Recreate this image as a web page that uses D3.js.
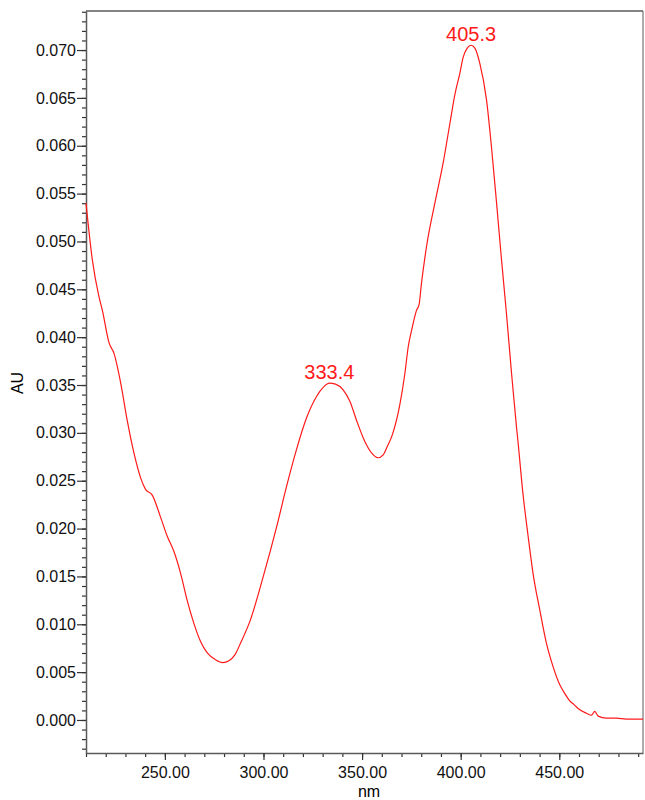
<!DOCTYPE html>
<html>
<head>
<meta charset="utf-8">
<script src="https://cdn.jsdelivr.net/npm/d3@7"></script>
<style>
  body { margin: 0; background: #fff; }
  text { font-family: "Liberation Sans", Arial, sans-serif; }
</style>
</head>
<body>
<div id="chart"></div>
<script>
// spectrum: wavelength (nm) and absorbance (AU)
var wavelength = [210, 213.2, 216.6, 218.3, 221.7, 224.2, 227.6, 230.9, 234.3, 237.7,
  240.2, 243.6, 247.8, 251.2, 254.6, 258.0, 261.3, 264.7, 268.1, 271.5,
  275.7, 279.3, 282.5, 285.5, 288.5, 293.1, 299.9, 306.7, 311.7, 316.8,
  321.9, 326.9, 330.5, 333.4, 336.5, 340.4, 343.8, 347.2, 351.4, 354.8,
  358.1, 360.7, 362.6, 365.5, 369.1, 371.7, 373.4, 375.1, 377.6, 378.9,
  380.1, 382.7, 386.9, 391.1, 394.5, 397.0, 399.6, 401.2, 403.3, 405.3,
  407.2, 409.7, 413.1, 415.6, 418.2, 420.7, 423.2, 425.8, 428.3, 429.1,
  431.6, 434.2, 436.7, 440.1, 443.5, 446.8, 450.2, 453.0, 455.3, 457.5,
  459.5, 463.8, 466.3, 468.0, 469.7, 473.9, 479.0, 484.0, 489.1, 492.5];
var absorbance = [0.0540, 0.0481, 0.0442, 0.0428, 0.0394, 0.0383, 0.0352, 0.0313, 0.0279, 0.0253,
  0.0241, 0.0235, 0.0212, 0.0192, 0.0176, 0.0153, 0.0125, 0.0101, 0.0082, 0.0070,
  0.0063, 0.0060, 0.0062, 0.0068, 0.0081, 0.0103, 0.0150, 0.0202, 0.0244, 0.0283,
  0.0316, 0.0338, 0.0348, 0.0352, 0.0351, 0.0345, 0.0333, 0.0313, 0.0291, 0.0279,
  0.0274, 0.0277, 0.0285, 0.0299, 0.0329, 0.0362, 0.0390, 0.0407, 0.0428, 0.0434,
  0.0456, 0.0495, 0.0540, 0.0582, 0.0623, 0.0653, 0.0676, 0.0692, 0.0702, 0.0705,
  0.0702, 0.0686, 0.0648, 0.0599, 0.0540, 0.0481, 0.0425, 0.0362, 0.0306, 0.0290,
  0.0236, 0.0192, 0.0153, 0.0115, 0.0080, 0.0056, 0.0037, 0.0027, 0.0020, 0.0016,
  0.0012, 0.0007, 0.0005, 0.0009, 0.0004, 0.0002, 0.0002, 0.0001, 0.0001, 0.0001];

var peakNm = [333.4, 405.3];
var peakAu = [0.0352, 0.0705];

var xTicks = [250, 300, 350, 400, 450];
var yTicks = [0, 0.005, 0.010, 0.015, 0.020, 0.025, 0.030, 0.035,
  0.040, 0.045, 0.050, 0.055, 0.060, 0.065, 0.070];

var W = 645, H = 800;
var margin = {top: 11, right: 2, bottom: 47, left: 86};
var w = W - margin.left - margin.right,
    h = H - margin.top - margin.bottom;

var svg = d3.select("#chart").append("svg")
  .attr("width", W)
  .attr("height", H);

var g = svg.append("g")
  .attr("transform", "translate(" + margin.left + "," + margin.top + ")");

var x = d3.scaleLinear().domain([210, 492.45]).range([0, w]);
var y = d3.scaleLinear().domain([-0.00345, 0.07408]).range([h, 0]);

var axisColor = "#5a5a5a";

// frame (top and right)
g.append("line").attr("x1", 0).attr("x2", w).attr("y1", 0).attr("y2", 0)
  .attr("stroke", axisColor).attr("stroke-width", 1.5);
g.append("line").attr("x1", w).attr("x2", w).attr("y1", 0).attr("y2", h)
  .attr("stroke", axisColor).attr("stroke-width", 1);

// minor ticks
var yMinor = d3.range(-3, 75).map(function(i) { return i / 1000; });
var xMinor = d3.range(210, 493, 10);

g.append("g")
  .attr("class", "yminor")
  .call(d3.axisLeft(y).tickValues(yMinor).tickSize(4).tickFormat(""))
  .call(function(s) { s.select(".domain").remove(); });

g.append("g")
  .attr("class", "xminor")
  .attr("transform", "translate(0," + h + ")")
  .call(d3.axisBottom(x).tickValues(xMinor).tickSize(4).tickFormat(""))
  .call(function(s) { s.select(".domain").remove(); });

// major axes
var yAxis = g.append("g")
  .call(d3.axisLeft(y).tickValues(yTicks).tickSize(9).tickSizeOuter(0)
    .tickPadding(1).tickFormat(d3.format(".3f")));

var xAxis = g.append("g")
  .attr("transform", "translate(0," + h + ")")
  .call(d3.axisBottom(x).tickValues(xTicks).tickSize(7).tickSizeOuter(0)
    .tickPadding(7).tickFormat(d3.format(".2f")));

g.selectAll(".tick line").attr("stroke", "#333").attr("stroke-width", 1.2);
g.selectAll(".domain").attr("stroke", axisColor).attr("stroke-width", 1.5);
g.selectAll(".tick text").attr("font-size", 16).attr("fill", "#111")
  .style("font-family", "'Liberation Sans', Arial, sans-serif");

// axis titles
svg.append("text")
  .attr("transform", "translate(23," + 383 + ") rotate(-90)")
  .attr("text-anchor", "middle")
  .attr("font-size", 16)
  .text("AU");

svg.append("text")
  .attr("x", 369).attr("y", 797)
  .attr("text-anchor", "middle")
  .attr("font-size", 16)
  .text("nm");

// spectrum
var pts = wavelength.map(function(d, i) { return [d, absorbance[i]]; });

var line = d3.line()
  .x(function(d) { return x(d[0]); })
  .y(function(d) { return y(d[1]); })
  .curve(d3.curveMonotoneX);

g.append("path")
  .datum(pts)
  .attr("fill", "none")
  .attr("stroke", "#ff1a1a")
  .attr("stroke-width", 1.2)
  .attr("d", line);

// peak labels
g.selectAll(".peak").data(peakNm).enter()
  .append("text")
  .attr("class", "peak")
  .attr("x", function(d) { return x(d); })
  .attr("y", function(d, i) { return y(peakAu[i]) - 4.5; })
  .attr("text-anchor", "middle")
  .attr("font-size", 20)
  .attr("fill", "#ff1a1a")
  .text(function(d) { return d.toFixed(1); });
</script>
</body>
</html>
